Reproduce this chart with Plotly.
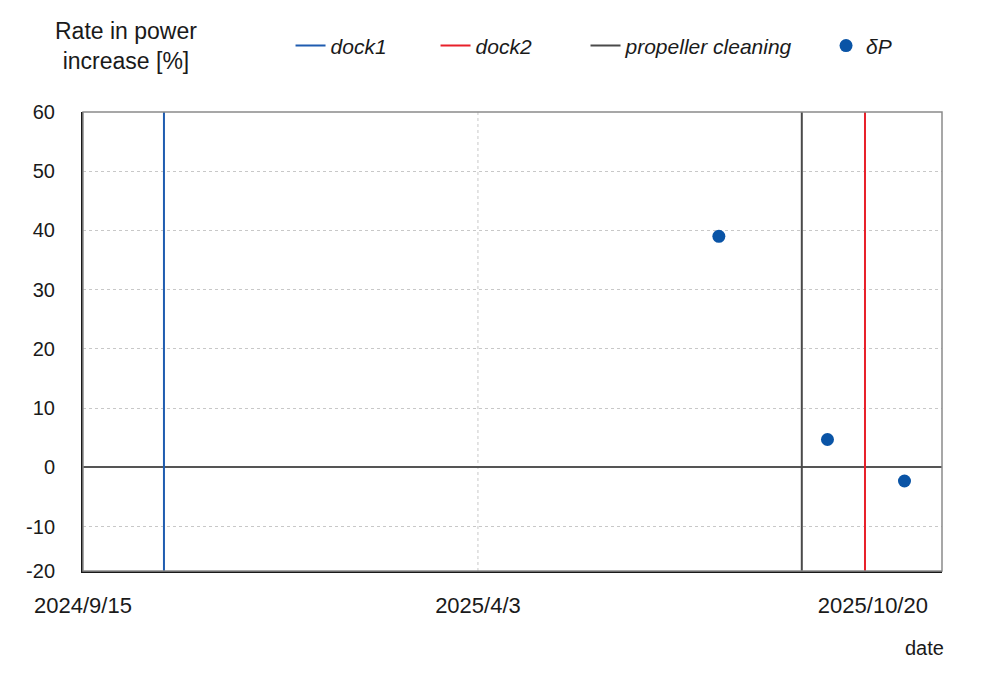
"""Rate in power increase vs. date, with dock / cleaning events."""

import plotly.graph_objects as go

# --- data -------------------------------------------------------------------
dock1_date = "2024-10-26"
dock2_date = "2025-10-16"
cleaning_date = "2025-09-14"

dp_dates = ["2025-08-03", "2025-09-27", "2025-11-05"]
dp_values = [39.0, 4.7, -2.3]

x_tick_vals = ["2024-09-15", "2025-04-03", "2025-10-20"]
x_tick_text = ["2024/9/15", "2025/4/3", "2025/10/20"]
x_range = ["2024-09-15", "2025-11-24"]

y_tick_vals = [-17.5, -10, 0, 10, 20, 30, 40, 50, 60]
y_tick_text = ["-20", "-10", "0", "10", "20", "30", "40", "50", "60"]
y_range = [-17.5, 60]

FONT = "Liberation Sans, Arial, sans-serif"
INK = "#1a1a1a"
GRID = "#c8c8c8"

fig = go.Figure()


def event_line(date, name, color, legend, x):
    # full-height vertical marker for an event; each gets its own legend box
    fig.add_scatter(
        x=[date, date],
        y=y_range,
        mode="lines",
        name=name,
        legend=legend,
        line=dict(color=color, width=2),
        hoverinfo="skip",
    )
    return x


legend_boxes = {
    "legend": event_line(dock1_date, "dock1", "#1f5cb0", "legend", 0.2416),
    "legend2": event_line(dock2_date, "dock2", "#e8202a", "legend2", 0.4104),
    "legend3": event_line(cleaning_date, "propeller cleaning", "#4a4a4a", "legend3", 0.5850),
}

fig.add_scatter(
    x=dp_dates,
    y=dp_values,
    mode="markers",
    name="δP",
    legend="legend4",
    marker=dict(color="#0a54a6", size=13),
)
legend_boxes["legend4"] = 0.8650

legend_style = {
    key: dict(
        orientation="h",
        x=x,
        y=1.144,
        xanchor="left",
        yanchor="middle",
        font=dict(family=FONT, size=21, style="italic", color=INK),
        bgcolor="rgba(0,0,0,0)",
    )
    for key, x in legend_boxes.items()
}

fig.update_layout(
    width=1000,
    height=680,
    paper_bgcolor="white",
    plot_bgcolor="white",
    font=dict(family=FONT, size=20, color=INK),
    margin=dict(l=83, r=58, t=112, b=109),
    showlegend=True,
    **legend_style,
    shapes=[
        # light frame on top/right; left/bottom come from the axis lines
        dict(
            type="rect", xref="paper", yref="paper", x0=0, x1=1, y0=0, y1=1,
            line=dict(color="#8a8a8a", width=1.5), layer="above",
        ),
        # the only vertical gridline that shows in the original
        dict(
            type="line", xref="x", yref="paper",
            x0=x_tick_vals[1], x1=x_tick_vals[1], y0=0, y1=1,
            line=dict(color=GRID, width=1, dash="dot"), layer="below",
        ),
    ],
    annotations=[
        dict(
            text="Rate in power<br>increase [%]",
            xref="paper", yref="paper", x=0.050, y=1.144,
            xanchor="center", yanchor="middle", showarrow=False,
            font=dict(family=FONT, size=23, color=INK),
        ),
        dict(
            text="date",
            xref="paper", yref="paper", x=1.0046, y=-0.167,
            xanchor="right", yanchor="middle", showarrow=False,
            font=dict(family=FONT, size=20, color=INK),
        ),
    ],
)

fig.update_xaxes(
    type="date",
    range=x_range,
    tickvals=x_tick_vals,
    ticktext=x_tick_text,
    tickfont=dict(size=22),
    showgrid=False,
    showline=True,
    linecolor=INK,
    linewidth=2,
    ticks="",
    ticklabelstandoff=14,
    zeroline=False,
)
fig.update_yaxes(
    range=y_range,
    tickvals=y_tick_vals,
    ticktext=y_tick_text,
    showgrid=True,
    gridcolor=GRID,
    griddash="dot",
    gridwidth=1,
    showline=True,
    linecolor=INK,
    linewidth=2,
    zeroline=True,
    zerolinecolor="#555555",
    zerolinewidth=1.5,
    ticks="",
    ticklabelstandoff=22,
)

fig.write_html(
    "out.html",
    config={"displayModeBar": False},
    post_script="document.body.style.margin='0';",
)
